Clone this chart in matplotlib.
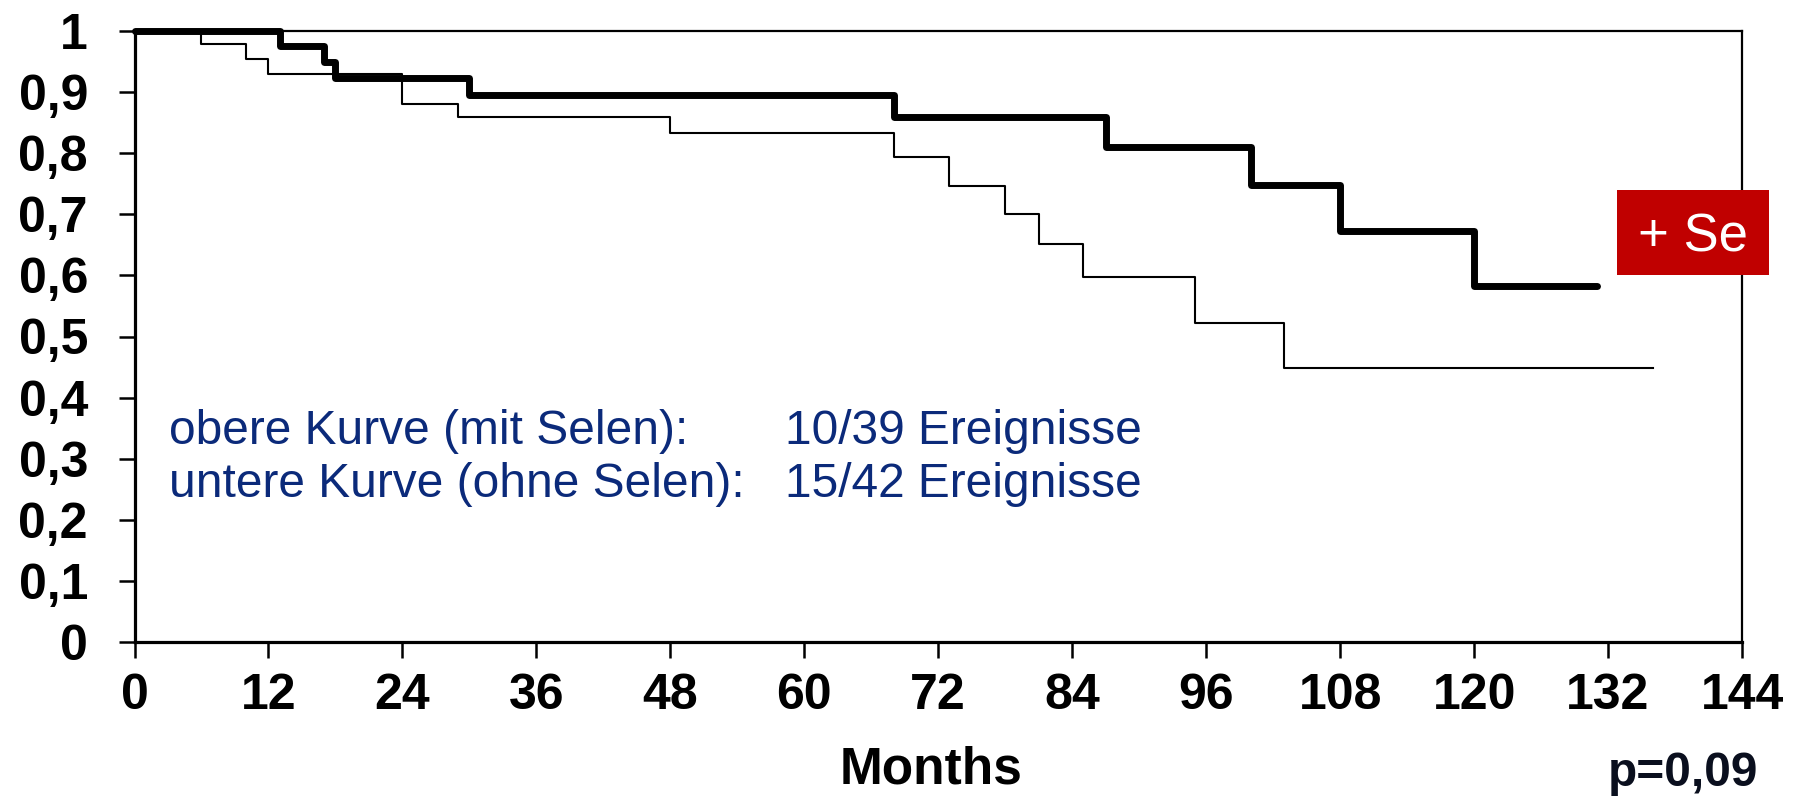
import matplotlib
matplotlib.use("Agg")
import matplotlib.pyplot as plt
from matplotlib.patches import Rectangle

# ---- data ----
upper_months = [0, 13, 17, 18, 30, 68, 87, 100, 108, 120, 131]
upper_surv = [1.0, 0.975, 0.95, 0.923, 0.895, 0.859, 0.810, 0.748, 0.672, 0.582, 0.582]
lower_months = [0, 6, 10, 12, 24, 29, 48, 68, 73, 78, 81, 85, 95, 103, 136]
lower_surv = [1.0, 0.978, 0.954, 0.930, 0.881, 0.859, 0.833, 0.793, 0.746, 0.700, 0.652, 0.598, 0.522, 0.448, 0.448]
x_ticks = list(range(0, 145, 12))
y_ticks = [0, 0.1, 0.2, 0.3, 0.4, 0.5, 0.6, 0.7, 0.8, 0.9, 1.0]
y_labels = ["0", "0,1", "0,2", "0,3", "0,4", "0,5", "0,6", "0,7", "0,8", "0,9", "1"]
legend_left = ["obere Kurve (mit Selen):", "untere Kurve (ohne Selen):"]
legend_right = ["10/39 Ereignisse", "15/42 Ereignisse"]

plt.rcParams["font.family"] = ["Liberation Sans", "DejaVu Sans"]

W, H = 1803, 800
fig = plt.figure(figsize=(W / 100, H / 100), dpi=100)
ax_l, ax_r, ax_t, ax_b = 134.5, 1742, 31, 642
ax = fig.add_axes([ax_l / W, 1 - ax_b / H, (ax_r - ax_l) / W, (ax_b - ax_t) / H])

ax.step(lower_months, lower_surv, where="post", color="black", lw=1.5,
        clip_on=False, zorder=3)
ax.step(upper_months, upper_surv, where="post", color="black", lw=5,
        solid_capstyle="round", solid_joinstyle="round", clip_on=False, zorder=4)

ax.set_xlim(0, 144)
ax.set_ylim(0, 1)
ax.set_xticks(x_ticks)
ax.set_xticklabels([str(t) for t in x_ticks])
ax.set_yticks(y_ticks)
ax.set_yticklabels(y_labels)

for side in ["left", "bottom"]:
    ax.spines[side].set_linewidth(2.3)
for side in ["top", "right"]:
    ax.spines[side].set_linewidth(1.6)

ax.tick_params(axis="both", direction="out", length=11.5, width=1.8,
               labelsize=36)
ax.tick_params(axis="y", pad=22)
ax.tick_params(axis="x", pad=11)
for lab in ax.get_xticklabels() + ax.get_yticklabels():
    lab.set_fontweight("bold")

def px(x, y):
    return (x / W, 1 - y / H)

navy = "#0B2A7A"
for i, (a, b) in enumerate(zip(legend_left, legend_right)):
    base = 444 + 53 * i
    fig.text(*px(169, base), a, color=navy, fontsize=34.5, va="baseline", ha="left")
    fig.text(*px(785, base), b, color=navy, fontsize=34.5, va="baseline", ha="left")

# + Se box
bx0, bx1, by0, by1 = 1617, 1769, 190, 275
fig.patches.append(Rectangle((bx0 / W, 1 - by1 / H), (bx1 - bx0) / W, (by1 - by0) / H,
                             transform=fig.transFigure, facecolor="#C00000",
                             edgecolor="none", zorder=10))
fig.text(*px((bx0 + bx1) / 2, (by0 + by1) / 2), "+ Se", color="white", fontsize=38,
         ha="center", va="center_baseline", zorder=11)

fig.text(*px(931, 783), "Months", fontsize=37, fontweight="bold", ha="center",
         va="baseline")
fig.text(*px(1758, 786), "p=0,09", fontsize=34.4, fontweight="bold", ha="right",
         va="baseline", color="#0A0F1E")

fig.savefig("out.png", dpi=100)
